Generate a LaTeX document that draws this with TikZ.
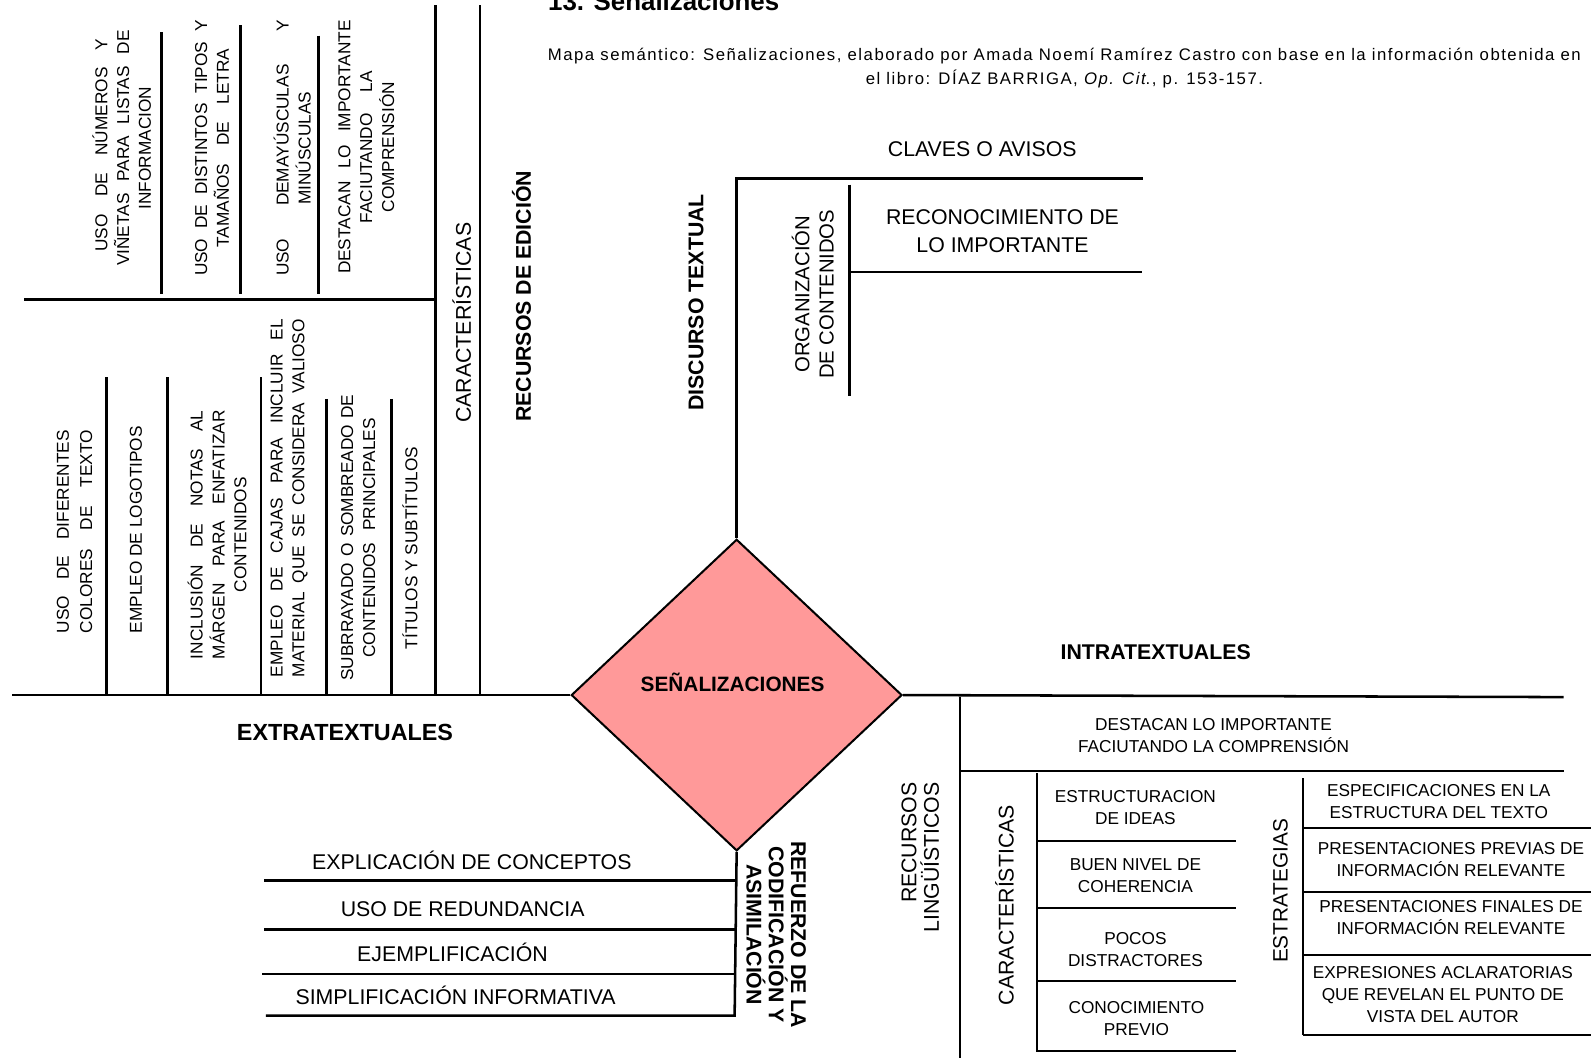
\documentclass[tikz,border=0pt]{standalone}
\usepackage{fontspec}
\setmainfont{Liberation Sans}
\usetikzlibrary{shapes.geometric}
\definecolor{pinkfill}{RGB}{255,153,153}

\begin{document}
\begin{tikzpicture}[x=1pt,y=-1pt,
  ln/.style={line width=2.5pt},
  lbl/.style={inner sep=0pt, align=center, font=\fontsize{21}{27}\selectfont},
  sm/.style={inner sep=0pt, align=center, font=\fontsize{17}{22}\selectfont},
  col/.style={inner sep=0pt, align=center, rotate=90, font=\fontsize{17}{21.5}\selectfont},
  hd/.style={inner sep=0pt, align=center, font=\fontsize{21}{22}\selectfont\bfseries},
  note/.style={inner sep=0pt, anchor=base, font=\fontsize{16.5}{22}\selectfont\addfontfeature{LetterSpace=9}},
  up/.style={rotate=90},
  dn/.style={rotate=-90}]

\fill[white] (0,0) rectangle (1568,1042);
\useasboundingbox (0,0) rectangle (1568,1042);

% heading and source note
\node[inner sep=0pt, anchor=base west, font=\fontsize{25.5}{28}\selectfont\bfseries] (title) at (540,10) {13. Señalizaciones};
\node[note] (src1) at (1049,60)
  {Mapa semántico: Señalizaciones, elaborado por Amada Noemí Ramírez Castro con base en la información obtenida en};
\node[note] (src2) at (1049,83)
  {el libro: DÍAZ BARRIGA, \textit{Op. Cit}., p. 153-157.};

% central diamond
\node[diamond, draw, line width=2pt, fill=pinkfill, minimum width=326pt, minimum height=307pt, inner sep=0pt] (dia) at (726,685) {};
\node[hd, font=\fontsize{20.5}{22}\selectfont\bfseries] (dial) at (722,672) {SEÑALIZACIONES};

% main axis
\draw[ln] (12,685) -- (dia.west);
\draw[ln] (dia.east) -- (1541,687);

% ---- upper right: discurso textual
\draw[ln] (dia.north) -- (726,176) -- (1126,176);
\draw[ln] (837,182) -- (837,390);
\draw[ln] (837,268) -- (1125,268);
\node[hd, up] (disc) at (686,298) {DISCURSO TEXTUAL};
\node[lbl, up, font=\fontsize{20}{24}\selectfont] (org) at (801,290) {ORGANIZACIÓN\\DE CONTENIDOS};
\node[lbl] (claves) at (968,147) {CLAVES O AVISOS};
\node[lbl] (recon) at (988,228) {RECONOCIMIENTO DE\\LO IMPORTANTE};

% ---- upper left: recursos de edicion
\draw[ln] (429,5) -- (429,686);
\draw[ln] (473,5) -- (473,686);
\node[lbl, up] (carL) at (455,318) {CARACTERÍSTICAS};
\node[hd, up] (recEd) at (514,292) {RECURSOS DE EDICIÓN};

\draw[ln] (24,295) -- (429,295);
\draw[ln] (159,32) -- (159,290);
\draw[ln] (237,25) -- (237,290);
\draw[ln] (314,35) -- (314,290);
\node[col] (c1) at (120,146) {\makebox[232pt][l]{\hspace{14pt}\makebox[210pt][s]{USO DE NÚMEROS Y}}\\\makebox[232pt][s]{VIÑETAS PARA LISTAS DE}\\INFORMACION};
\node[col] (c2) at (209,146) {\makebox[252pt][s]{USO DE DISTINTOS TIPOS Y}\\\makebox[196pt][s]{TAMAÑOS DE LETRA}};
\node[col] (c3) at (288,146) {\makebox[252pt][s]{USO DEMAYÚSCULAS Y}\\MINÚSCULAS};
\node[col] (c4) at (361,145) {\makebox[250pt][s]{DESTACAN LO IMPORTANTE}\\\makebox[150pt][s]{FACIUTANDO LA}\\COMPRENSIÓN};

\draw[ln] (105,372) -- (105,685);
\draw[ln] (165,372) -- (165,685);
\draw[ln] (257,372) -- (257,685);
\draw[ln] (322,393) -- (322,685);
\draw[ln] (386,393) -- (386,685);
\node[col, font=\fontsize{17}{23}\selectfont] (c5) at (73.5,524) {\makebox[200pt][s]{USO DE DIFERENTES}\\\makebox[200pt][s]{COLORES DE TEXTO}};
\node[col] (c6) at (134,522) {EMPLEO DE LOGOTIPOS};
\node[col] (c7) at (214,527) {\makebox[245pt][s]{INCLUSIÓN DE NOTAS AL}\\\makebox[245pt][s]{MÁRGEN PARA ENFATIZAR}\\CONTENIDOS};
\node[col] (c8) at (285,491) {\makebox[353pt][s]{EMPLEO DE CAJAS PARA INCLUIR EL}\\\makebox[353pt][s]{MATERIAL QUE SE CONSIDERA VALIOSO}};
\node[col] (c9) at (353,530) {\makebox[282pt][s]{SUBRRAYADO O SOMBREADO DE}\\\makebox[236pt][s]{CONTENIDOS PRINCIPALES}};
\node[col] (c10) at (404,540) {TÍTULOS Y SUBTÍTULOS};

\node[hd, font=\fontsize{23}{24}\selectfont\bfseries] (extra) at (340,722) {EXTRATEXTUALES};

% ---- lower left: refuerzo
\draw[ln] (dia.south) -- (724,1001) -- (262,1001);
\draw[ln] (724,868) -- (260,868);
\draw[ln] (724,916) -- (260,916);
\draw[ln] (724,960) -- (258,960);
\node[lbl] (r1) at (465,848) {EXPLICACIÓN DE CONCEPTOS};
\node[lbl] (r2) at (456,896) {USO DE REDUNDANCIA};
\node[lbl] (r3) at (446,939) {EJEMPLIFICACIÓN};
\node[lbl] (r4) at (449,981) {SIMPLIFICACIÓN INFORMATIVA};
\node[hd, dn] (refz) at (765,921) {REFUERZO DE LA\\CODIFICACIÓN Y\\ASIMILACIÓN};

% ---- lower right: intratextuales
\node[hd] (intra) at (1139,643) {INTRATEXTUALES};
\draw[ln] (946,687) -- (946,1046);
\draw[ln] (946,760) -- (1541,760);
\node[sm] (dest) at (1196,725) {DESTACAN LO IMPORTANTE\\FACIUTANDO LA COMPRENSIÓN};
\node[lbl, up, align=right, font=\fontsize{21}{22}\selectfont] (recL) at (907,845) {RECURSOS\\LINGÜÍSTICOS};

\draw[ln] (1022,762) -- (1022,1036) -- (1218,1036);
\draw[ln] (1022,829) -- (1218,829);
\draw[ln] (1022,895) -- (1218,895);
\draw[ln] (1022,967) -- (1218,967);
\node[lbl, up] (carR) at (990,892) {CARACTERÍSTICAS};
\node[sm] (k1) at (1119,796) {ESTRUCTURACION\\DE IDEAS};
\node[sm] (k2) at (1119,863) {BUEN NIVEL DE\\COHERENCIA};
\node[sm] (k3) at (1119,936) {POCOS\\DISTRACTORES};
\node[sm] (k4) at (1120,1004) {CONOCIMIENTO\\PREVIO};

\draw[ln] (1284,767) -- (1284,1020);
\draw[ln] (1284,816) -- (1570,816);
\draw[ln] (1284,879) -- (1570,879);
\draw[ln] (1284,941) -- (1570,941);
\draw[ln] (1284,1020) -- (1570,1020);
\node[lbl, up, font=\fontsize{20.5}{22}\selectfont] (estr) at (1262,878) {ESTRATEGIAS};
\node[sm] (e1) at (1418,790) {ESPECIFICACIONES EN LA\\ESTRUCTURA DEL TEXTO};
\node[sm] (e2) at (1430,847) {PRESENTACIONES PREVIAS DE\\INFORMACIÓN RELEVANTE};
\node[sm] (e3) at (1430,904) {PRESENTACIONES FINALES DE\\INFORMACIÓN RELEVANTE};
\node[sm] (e4) at (1422,980) {EXPRESIONES ACLARATORIAS\\QUE REVELAN EL PUNTO DE\\VISTA DEL AUTOR};

\end{tikzpicture}
\end{document}
